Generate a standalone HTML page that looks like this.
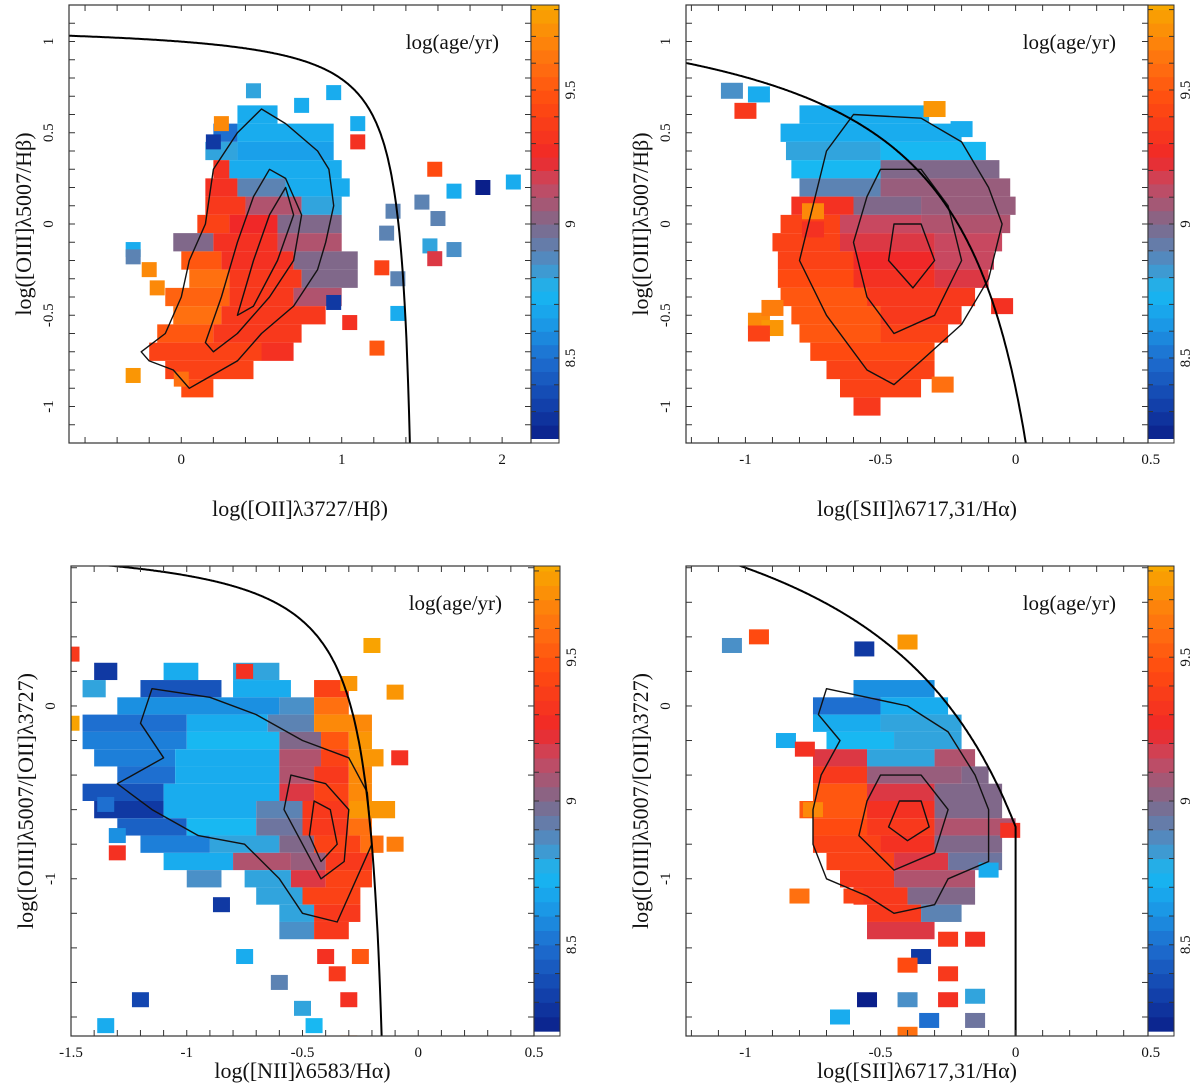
<!DOCTYPE html>
<html><head><meta charset="utf-8"><style>
html,body{margin:0;padding:0;background:#fff;}
svg{display:block;font-family:"Liberation Serif","DejaVu Serif",serif;}
</style></head><body>
<svg id="fig" xmlns="http://www.w3.org/2000/svg" width="1200" height="1085" viewBox="0 0 1200 1085"></svg>
<script>
// ---------- data: heatmap row segments [yCenter, x0, x1, log(age)] ----------
const p1Segments = [
[0.6,0.35,0.6,8.7],[0.5,0.2,0.35,8.5],[0.5,0.35,0.95,8.7],[0.4,0.15,0.35,8.8],[0.4,0.35,0.95,8.65],
[0.3,0.2,0.3,9.3],[0.3,0.3,1.0,8.7],[0.2,0.15,0.35,9.3],[0.2,0.35,0.65,8.9],[0.2,0.65,1.05,8.7],
[0.1,0.15,0.4,9.35],[0.1,0.4,0.75,9.1],[0.1,0.75,1.0,8.8],[0,0.1,0.3,9.4],[0,0.3,0.6,9.25],[0,0.6,1.0,9.0],
[-0.1,-0.05,0.2,9.0],[-0.1,0.2,0.6,9.3],[-0.1,0.6,1.0,9.1],[-0.2,0.0,0.25,9.5],[-0.2,0.25,0.7,9.3],[-0.2,0.7,1.1,9.0],
[-0.3,0.05,0.3,9.6],[-0.3,0.3,0.75,9.35],[-0.3,0.75,1.1,9.0],[-0.4,-0.1,0.3,9.55],[-0.4,0.3,0.7,9.35],[-0.4,0.7,1.0,9.1],
[-0.5,-0.05,0.25,9.6],[-0.5,0.25,0.9,9.35],[-0.6,-0.15,0.2,9.5],[-0.6,0.2,0.75,9.35],[-0.7,-0.2,0.5,9.4],[-0.7,0.5,0.7,9.3],
[-0.8,-0.1,0.45,9.4],[-0.9,0.0,0.2,9.45]];
const p1Outliers = [
[0.45,0.73,8.8],[0.95,0.72,8.7],[0.75,0.65,8.7],[1.1,0.55,8.7],[1.1,0.45,9.3],[1.58,0.3,9.45],[1.7,0.18,8.7],[1.88,0.2,8.2],
[2.07,0.23,8.7],[1.5,0.12,8.9],[1.32,0.07,8.9],[1.6,0.03,8.9],[1.28,-0.05,8.9],[1.55,-0.12,8.8],[1.7,-0.14,8.85],[1.58,-0.19,9.2],
[1.25,-0.24,9.4],[1.35,-0.3,8.9],[1.35,-0.49,8.7],[1.05,-0.54,9.3],[1.22,-0.68,9.5],[0.95,-0.43,8.3],[-0.3,-0.14,8.7],
[-0.3,-0.18,8.9],[-0.2,-0.25,9.7],[-0.3,-0.83,9.75],[0.0,-0.85,9.6],[-0.15,-0.35,9.7],[0.25,0.55,9.7],[0.2,0.45,8.3]];
const p1Contours = [
[[-0.25,-0.7],[-0.1,-0.6],[0.0,-0.4],[0.05,-0.2],[0.15,0.0],[0.2,0.3],[0.35,0.5],[0.5,0.63],[0.65,0.55],[0.85,0.4],[0.92,0.3],[0.95,0.1],[0.9,-0.1],[0.85,-0.25],[0.7,-0.45],[0.5,-0.6],[0.35,-0.75],[0.15,-0.85],[0.05,-0.9],[-0.05,-0.8],[-0.2,-0.75]],
[[0.15,-0.65],[0.25,-0.4],[0.35,-0.1],[0.45,0.15],[0.55,0.3],[0.65,0.25],[0.75,0.05],[0.7,-0.2],[0.55,-0.4],[0.35,-0.6],[0.2,-0.7]],
[[0.35,-0.5],[0.45,-0.2],[0.55,0.05],[0.65,0.2],[0.7,0.05],[0.6,-0.2],[0.45,-0.45]]];

const p2Segments = [
[0.6,-0.8,-0.32,8.7],[0.5,-0.87,-0.2,8.7],[0.4,-0.85,-0.5,8.8],[0.4,-0.5,-0.11,8.75],[0.3,-0.83,-0.5,8.75],[0.3,-0.5,-0.06,9.0],
[0.2,-0.8,-0.5,8.9],[0.2,-0.5,-0.02,9.05],[0.1,-0.83,-0.6,9.3],[0.1,-0.6,-0.35,9.0],[0.1,-0.35,0.0,9.05],
[0,-0.87,-0.65,9.4],[0,-0.65,-0.35,9.15],[0,-0.35,-0.02,9.1],[-0.1,-0.9,-0.65,9.4],[-0.1,-0.65,-0.3,9.2],[-0.1,-0.3,-0.05,9.15],
[-0.2,-0.88,-0.6,9.4],[-0.2,-0.6,-0.3,9.25],[-0.2,-0.3,-0.08,9.15],[-0.3,-0.88,-0.6,9.45],[-0.3,-0.6,-0.3,9.3],[-0.3,-0.3,-0.1,9.2],
[-0.4,-0.87,-0.55,9.5],[-0.4,-0.55,-0.15,9.35],[-0.5,-0.83,-0.5,9.5],[-0.5,-0.5,-0.2,9.35],[-0.6,-0.8,-0.5,9.5],[-0.6,-0.5,-0.25,9.4],
[-0.7,-0.76,-0.3,9.45],[-0.8,-0.7,-0.3,9.4],[-0.9,-0.65,-0.35,9.4],[-1.0,-0.6,-0.5,9.35]];
const p2Outliers = [
[-1.05,0.73,8.85],[-0.95,0.71,8.7],[-1.0,0.62,9.35],[-0.3,0.63,9.75],[-0.95,-0.53,9.7],[-0.9,-0.57,9.75],[-0.75,-0.03,9.3],
[-0.75,0.07,9.7],[-0.9,-0.46,9.65],[-0.95,-0.6,9.4],[-0.27,-0.88,9.6],[-0.2,0.52,8.7],[-0.05,-0.45,9.3]];
const p2Contours = [
[[-0.6,0.6],[-0.35,0.58],[-0.2,0.45],[-0.1,0.2],[-0.05,0.0],[-0.1,-0.3],[-0.2,-0.55],[-0.35,-0.75],[-0.45,-0.88],[-0.55,-0.8],[-0.7,-0.5],[-0.8,-0.2],[-0.75,0.1],[-0.7,0.4]],
[[-0.5,0.3],[-0.35,0.3],[-0.25,0.1],[-0.2,-0.2],[-0.3,-0.5],[-0.45,-0.6],[-0.55,-0.4],[-0.6,-0.1],[-0.55,0.15]],
[[-0.45,0.0],[-0.35,0.0],[-0.3,-0.2],[-0.38,-0.35],[-0.47,-0.2]]];

const p3Segments = [
[0.2,-1.4,-1.3,8.3],[0.2,-1.1,-0.95,8.7],[0.2,-0.8,-0.6,8.8],[0.1,-1.45,-1.35,8.8],[0.1,-1.2,-0.85,8.4],[0.1,-0.8,-0.55,8.7],[0.1,-0.45,-0.3,9.4],
[0,-1.3,-0.6,8.6],[0,-0.6,-0.45,8.85],[0,-0.45,-0.3,9.6],
[-0.1,-1.45,-1.0,8.5],[-0.1,-1.0,-0.65,8.7],[-0.1,-0.65,-0.45,8.9],[-0.1,-0.45,-0.2,9.7],
[-0.2,-1.45,-1.0,8.55],[-0.2,-1.0,-0.6,8.75],[-0.2,-0.6,-0.42,9.0],[-0.2,-0.42,-0.3,9.5],[-0.2,-0.3,-0.2,9.75],
[-0.3,-1.4,-1.05,8.55],[-0.3,-1.05,-0.6,8.7],[-0.3,-0.6,-0.42,9.1],[-0.3,-0.42,-0.3,9.4],[-0.3,-0.3,-0.15,9.75],
[-0.4,-1.3,-1.05,8.5],[-0.4,-1.05,-0.6,8.7],[-0.4,-0.6,-0.45,9.1],[-0.4,-0.45,-0.3,9.35],[-0.4,-0.3,-0.2,9.7],
[-0.5,-1.45,-1.1,8.4],[-0.5,-1.1,-0.6,8.7],[-0.5,-0.6,-0.45,9.2],[-0.5,-0.45,-0.3,9.4],[-0.5,-0.3,-0.2,9.7],
[-0.6,-1.4,-1.1,8.3],[-0.6,-1.1,-0.7,8.7],[-0.6,-0.7,-0.5,8.9],[-0.6,-0.5,-0.3,9.35],[-0.6,-0.3,-0.1,9.75],
[-0.7,-1.3,-1.0,8.45],[-0.7,-1.0,-0.7,8.75],[-0.7,-0.7,-0.5,8.95],[-0.7,-0.5,-0.3,9.35],[-0.7,-0.3,-0.2,9.6],
[-0.8,-1.2,-0.9,8.55],[-0.8,-0.9,-0.6,8.8],[-0.8,-0.6,-0.45,9.0],[-0.8,-0.45,-0.25,9.4],[-0.8,-0.25,-0.15,9.6],
[-0.9,-1.1,-0.8,8.7],[-0.9,-0.8,-0.55,9.1],[-0.9,-0.55,-0.4,9.05],[-0.9,-0.4,-0.2,9.35],
[-1.0,-1.0,-0.85,8.85],[-1.0,-0.75,-0.55,8.8],[-1.0,-0.55,-0.4,9.2],[-1.0,-0.4,-0.2,9.4],
[-1.1,-0.7,-0.5,8.8],[-1.1,-0.5,-0.25,9.4],[-1.2,-0.6,-0.45,8.8],[-1.2,-0.45,-0.25,9.35],[-1.3,-0.6,-0.45,8.85],[-1.3,-0.45,-0.3,9.35]];
const p3Outliers = [
[-0.2,0.35,9.8],[-0.3,0.13,9.75],[-0.1,0.08,9.75],[-0.08,-0.3,9.3],[-0.1,-0.8,9.65],[-1.35,-0.57,8.5],[-1.3,-0.75,8.6],
[-1.3,-0.85,9.3],[-0.85,-1.15,8.3],[-0.75,-1.45,8.7],[-0.6,-1.6,8.9],[-1.2,-1.7,8.35],[-1.35,-1.85,8.7],[-0.5,-1.75,8.8],
[-0.45,-1.85,8.75],[-0.4,-1.45,9.3],[-0.35,-1.55,9.35],[-0.3,-1.7,9.3],[-0.25,-1.45,9.5],[-0.3,-1.95,9.6],[-1.5,0.3,9.35],
[-1.5,-0.1,9.8],[-0.75,0.2,9.3]];
const p3Contours = [
[[-1.15,0.1],[-0.9,0.05],[-0.7,-0.05],[-0.5,-0.2],[-0.3,-0.3],[-0.22,-0.5],[-0.2,-0.8],[-0.3,-1.1],[-0.35,-1.25],[-0.5,-1.2],[-0.6,-1.0],[-0.75,-0.8],[-0.95,-0.75],[-1.15,-0.6],[-1.3,-0.45],[-1.1,-0.3],[-1.2,-0.1]],
[[-0.55,-0.4],[-0.4,-0.45],[-0.3,-0.6],[-0.32,-0.9],[-0.42,-1.0],[-0.5,-0.8],[-0.58,-0.6]],
[[-0.45,-0.55],[-0.38,-0.6],[-0.35,-0.8],[-0.42,-0.9],[-0.47,-0.75]]];

const p4Segments = [
[0.1,-0.6,-0.3,8.6],[0,-0.75,-0.5,8.5],[0,-0.5,-0.25,8.7],[-0.1,-0.75,-0.5,8.7],[-0.1,-0.5,-0.2,8.8],
[-0.2,-0.7,-0.45,8.75],[-0.2,-0.45,-0.2,8.8],[-0.3,-0.75,-0.55,9.2],[-0.3,-0.55,-0.3,8.8],[-0.3,-0.3,-0.15,9.1],
[-0.4,-0.75,-0.55,9.35],[-0.4,-0.55,-0.2,9.05],[-0.4,-0.2,-0.1,9.0],[-0.5,-0.75,-0.55,9.5],[-0.5,-0.55,-0.3,9.2],[-0.5,-0.3,-0.05,9.0],
[-0.6,-0.8,-0.55,9.5],[-0.6,-0.55,-0.3,9.3],[-0.6,-0.3,-0.05,9.0],[-0.7,-0.75,-0.55,9.45],[-0.7,-0.55,-0.3,9.35],[-0.7,-0.3,0.0,9.1],
[-0.8,-0.75,-0.5,9.4],[-0.8,-0.5,-0.3,9.3],[-0.8,-0.3,-0.05,9.0],[-0.9,-0.7,-0.45,9.4],[-0.9,-0.45,-0.25,9.2],[-0.9,-0.25,-0.05,8.95],
[-1.0,-0.65,-0.45,9.35],[-1.0,-0.45,-0.15,9.1],[-1.1,-0.6,-0.4,9.35],[-1.1,-0.4,-0.15,9.0],[-1.2,-0.55,-0.35,9.35],[-1.2,-0.35,-0.2,8.9],
[-1.3,-0.55,-0.3,9.2]];
const p4Outliers = [
[-1.05,0.35,8.85],[-0.95,0.4,9.45],[-0.56,0.33,8.3],[-0.4,0.37,9.75],[-0.85,-0.2,8.7],[-0.78,-0.25,9.3],[-0.8,-1.1,9.6],
[-0.6,-1.1,9.4],[-0.25,-1.35,9.35],[-0.15,-1.35,9.3],[-0.35,-1.45,8.3],[-0.4,-1.5,9.45],[-0.25,-1.55,9.35],[-0.55,-1.7,8.2],
[-0.4,-1.7,8.85],[-0.25,-1.7,9.3],[-0.15,-1.68,8.8],[-0.65,-1.8,8.7],[-0.32,-1.82,8.5],[-0.15,-1.82,8.95],[-0.4,-1.9,9.6],
[-0.75,-0.6,9.7],[-0.1,-0.95,8.7],[-0.02,-0.72,9.3]];
const p4Contours = [
[[-0.7,0.1],[-0.55,0.05],[-0.4,0.0],[-0.25,-0.15],[-0.15,-0.4],[-0.1,-0.6],[-0.1,-0.9],[-0.25,-1.0],[-0.3,-1.15],[-0.45,-1.2],[-0.55,-1.1],[-0.7,-1.0],[-0.75,-0.8],[-0.75,-0.6],[-0.72,-0.4],[-0.65,-0.2],[-0.73,-0.05]],
[[-0.5,-0.4],[-0.35,-0.4],[-0.25,-0.6],[-0.3,-0.85],[-0.45,-0.95],[-0.58,-0.75],[-0.55,-0.55]],
[[-0.43,-0.55],[-0.35,-0.55],[-0.32,-0.7],[-0.4,-0.78],[-0.47,-0.7]]];

// tick labels
const p1XTicks = [0,1,2];
const p1YTicks = [-1,-0.5,0,0.5,1];
const p2XTicks = [-1,-0.5,0,0.5];
const p2YTicks = [-1,-0.5,0,0.5,1];
const p3XTicks = [-1.5,-1,-0.5,0,0.5];
const p3YTicks = [-1,0];
const p4XTicks = [-1,-0.5,0,0.5];
const p4YTicks = [-1,0];
const cbTicks = [8.5,9,9.5];

// ---------- rendering ----------
const NS = "http://www.w3.org/2000/svg";
const svg = document.getElementById('fig');
function mk(tag, attrs, parent){
  const e = document.createElementNS(NS, tag);
  for (const k in attrs) e.setAttribute(k, attrs[k]);
  (parent||svg).appendChild(e);
  return e;
}
const cmapV = [8.2,8.35,8.5,8.65,8.75,8.85,9.0,9.15,9.25,9.45,9.6,9.82];
const cmapC = ["#0a1f8a","#1346b0","#1e6fd0","#1aa0ea","#18b8f2","#4a90c8","#80688a","#c84860","#f02828","#ff4a10","#ff7010","#f8a800"];
function hex(c){return [parseInt(c.substr(1,2),16),parseInt(c.substr(3,2),16),parseInt(c.substr(5,2),16)];}
function color(v){
  if (v<=cmapV[0]) return cmapC[0];
  for (let i=1;i<cmapV.length;i++){
    if (v<=cmapV[i]){
      const t=(v-cmapV[i-1])/(cmapV[i]-cmapV[i-1]);
      const a=hex(cmapC[i-1]), b=hex(cmapC[i]);
      return "rgb("+a.map((x,j)=>Math.round(x+(b[j]-x)*t)).join(",")+")";
    }
  }
  return cmapC[cmapC.length-1];
}
function fmt(v){ return (v<0?"-":"")+String(Math.abs(v)); }

function panel(c){
  const g = mk('g', {});
  
  
  const sx = v => c.L + (v - c.x0)/(c.x1 - c.x0)*(c.R - c.L);
  const sy = v => c.B - (v - c.y0)/(c.y1 - c.y0)*(c.B - c.T);
  const clipId = 'clip-'+c.name;
  const cp = mk('clipPath', {id:clipId}, g);
  mk('rect', {x:c.L, y:c.T, width:c.R-c.L, height:c.B-c.T}, cp);
  const data = mk('g', {'clip-path':'url(#'+clipId+')'}, g);
  
  
  c.segs.forEach(s => {
    const r = mk('rect', {x:sx(s[1]), y:sy(s[0]+0.05), width:sx(s[2])-sx(s[1]), height:sy(s[0]-0.05)-sy(s[0]+0.05), fill:color(s[3])}, data);
    
    
  });
  c.outs.forEach(o => {
    const r = mk('rect', {x:sx(o[0])-c.ow/2, y:sy(o[1])-c.oh/2, width:c.ow, height:c.oh, fill:color(o[2])}, data);
    
    
  });
  c.cont.forEach(poly => {
    const d = 'M'+poly.map(p=>sx(p[0]).toFixed(1)+','+sy(p[1]).toFixed(1)).join('L')+'Z';
    const p = mk('path', {d:d, fill:'none', stroke:'#111', 'stroke-width':1.4, 'stroke-linejoin':'round'}, data);
    
    
  });
  let pts=[];
  for (let i=0;i<=400;i++){
    const x = c.x0 + (c.curveXmax - c.x0)*i/400;
    const y = c.curve(x);
    if (y < c.y0-0.5) break;
    pts.push(sx(x).toFixed(1)+','+sy(y).toFixed(1));
  }
  if (c.vertDrop){ pts.push(sx(c.curveXmax).toFixed(1)+','+sy(c.y0-0.2).toFixed(1)); }
  const cv = mk('path', {d:'M'+pts.join('L'), fill:'none', stroke:'#000', 'stroke-width':2}, data);
  
  
  const fr = mk('rect', {x:c.L, y:c.T, width:c.R-c.L, height:c.B-c.T, fill:'none', stroke:'#333', 'stroke-width':1.2}, g);
  
  
  const tk = mk('g', {stroke:'#333','stroke-width':1}, g);
  for (let v=Math.ceil(c.x0/c.xm-1e-6)*c.xm; v<=c.x1+1e-9; v+=c.xm){
    const X=sx(v); mk('line',{x1:X,x2:X,y1:c.B,y2:c.B-6},tk); mk('line',{x1:X,x2:X,y1:c.T,y2:c.T+6},tk);
  }
  for (let v=Math.ceil(c.y0/c.ym-1e-6)*c.ym; v<=c.y1+1e-9; v+=c.ym){
    const Y=sy(v); mk('line',{x1:c.L,x2:c.L+6,y1:Y,y2:Y},tk); mk('line',{x1:c.R,x2:c.R-6,y1:Y,y2:Y},tk);
  }
  c.xt.forEach(v=>{
    const t = mk('text',{x:sx(v), y:c.B+21, 'text-anchor':'middle', 'font-size':15, fill:'#111'}, g);
    t.textContent = fmt(v);
    
    
  });
  c.yt.forEach(v=>{
    const t = mk('text',{x:0,y:0,'text-anchor':'middle','font-size':15,fill:'#111',transform:'translate('+(c.L-16)+','+sy(v)+') rotate(-90)'}, g);
    t.textContent = fmt(v);
    
    
  });
  const xl = mk('text',{x:(c.L+c.R)/2, y:c.B+c.xlOff,'text-anchor':'middle','font-size':22,fill:'#111'}, g);
  xl.textContent = c.xlab;
  
  
  const yl = mk('text',{x:0,y:0,'text-anchor':'middle','font-size':22,fill:'#111',transform:'translate('+(c.L-38)+','+((c.T+c.B)/2)+') rotate(-90)'}, g);
  yl.textContent = c.ylab;
  
  
  const al = mk('text',{x:c.R-32, y:c.T+44,'text-anchor':'end','font-size':21,fill:'#111'}, g);
  al.textContent = 'log(age/yr)';
  
  
  const cb = mk('g',{}, g);
  
  
  const ppu = (c.B - c.T)*268/438;
  const cy = v => c.T + (c.B-c.T)*219/438 - (v-9)*ppu;
  const top = 9 + (cy(9)-c.T)/ppu;
  for (let v=8.2; v<top; v+=0.05){
    const y1 = Math.max(c.T, cy(v+0.05)), y2 = cy(v);
    mk('rect',{x:c.R, y:y1, width:c.CR-c.R, height:y2-y1+0.6, fill:color(v+0.025)}, cb);
  }
  mk('rect',{x:c.R, y:c.T, width:c.CR-c.R, height:c.B-c.T, fill:'none', stroke:'#333','stroke-width':1}, cb);
  for (let v=8.3; v<top; v+=0.1){
    const Y=cy(v); mk('line',{x1:c.R,x2:c.R+5,y1:Y,y2:Y,stroke:'#333'},cb); mk('line',{x1:c.CR,x2:c.CR-5,y1:Y,y2:Y,stroke:'#333'},cb);
  }
  cbTicks.forEach(v=>{
    const t = mk('text',{x:0,y:0,'text-anchor':'middle','font-size':15,fill:'#111',transform:'translate('+(c.CR+16)+','+cy(v)+') rotate(-90)'}, cb);
    t.textContent = String(v);
    
    
  });
}

panel({name:'panel-oii-hb', L:69,R:531,CR:559,T:5,B:443, x0:-0.7,x1:2.18,y0:-1.2,y1:1.2, xm:0.2, ym:0.1,
  segs:p1Segments, outs:p1Outliers, cont:p1Contours, ow:15, oh:15, xt:p1XTicks, yt:p1YTicks, xlOff:73,
  xlab:'log([OII]λ3727/Hβ)', ylab:'log([OIII]λ5007/Hβ)',
  curve:x=>0.15/(x-1.49)+1.1, curveXmax:1.485});
panel({name:'panel-sii-ha', L:686,R:1148,CR:1174,T:5,B:443, x0:-1.22,x1:0.49,y0:-1.2,y1:1.2, xm:0.1, ym:0.1,
  segs:p2Segments, outs:p2Outliers, cont:p2Contours, ow:22, oh:16, xt:p2XTicks, yt:p2YTicks, xlOff:73,
  xlab:'log([SII]λ6717,31/Hα)', ylab:'log([OIII]λ5007/Hβ)',
  curve:x=>0.72/(x-0.32)+1.35, curveXmax:0.315});
panel({name:'panel-nii-ha', L:71,R:534,CR:560,T:566,B:1036, x0:-1.5,x1:0.5,y0:-1.91,y1:0.81, xm:0.1, ym:0.2,
  segs:p3Segments, outs:p3Outliers, cont:p3Contours, ow:17, oh:15, xt:p3XTicks, yt:p3YTicks, xlOff:42,
  xlab:'log([NII]λ6583/Hα)', ylab:'log([OIII]λ5007/[OII]λ3727)',
  curve:x=>0.196/(x+0.09)+0.97, curveXmax:-0.095});
panel({name:'panel-sii-ha-oiii-oii', L:686,R:1148,CR:1174,T:566,B:1036, x0:-1.22,x1:0.49,y0:-1.91,y1:0.81, xm:0.1, ym:0.2,
  segs:p4Segments, outs:p4Outliers, cont:p4Contours, ow:20, oh:15, xt:p4XTicks, yt:p4YTicks, xlOff:42,
  xlab:'log([SII]λ6717,31/Hα)', ylab:'log([OIII]λ5007/[OII]λ3727)',
  curve:x=>1.44/(x-0.6)+1.7, curveXmax:0, vertDrop:true});
</script>
</body></html>
